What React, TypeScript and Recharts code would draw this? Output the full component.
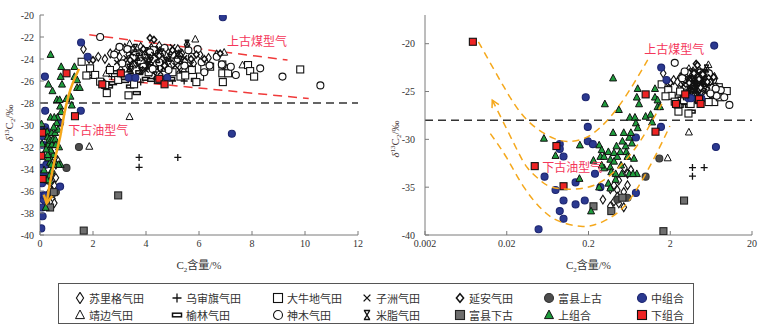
import React from 'react'
import { ScatterChart, Scatter, XAxis, YAxis, ReferenceLine, ReferenceDot } from 'recharts'

// C2 content (%) , delta13C2 (permil)
const suligeData = [
  [1.64, -23.1], [1.85, -24.0], [2.2, -23.8], [2.45, -24.0], [2.65, -23.5], [2.9, -23.3], [3.0, -23.8],
  [3.2, -23.0], [3.35, -23.6], [3.5, -23.2], [3.6, -24.3], [3.75, -23.5], [3.9, -23.8], [4.0, -24.6],
  [4.4, -23.4], [4.6, -24.0], [4.8, -23.3], [5.0, -24.5], [5.1, -23.8], [5.3, -24.8], [5.48, -24.2],
  [5.6, -25.0], [5.8, -24.4], [6.04, -23.6], [6.36, -23.9], [6.67, -23.6], [6.9, -24.6], [7.05, -24.9],
  [5.55, -22.7], [4.9, -24.9], [3.3, -24.5], [3.05, -25.0], [2.6, -24.8], [4.2, -23.0], [3.8, -22.9],
  [4.5, -22.8], [5.2, -23.1], [3.65, -24.0], [4.1, -24.1], [4.35, -24.5], [4.75, -23.7], [5.35, -23.5],
  [3.45, -24.8],
  [0.37, -35.2], [0.41, -34.8], [0.47, -34.3], [0.45, -35.3], [0.54, -35.5], [0.6, -34.8], [0.45, -36.0],
  [0.41, -36.5], [0.47, -36.7], [0.54, -37.1], [0.37, -37.0], [0.66, -33.2], [0.6, -33.6], [0.55, -33.0],
  [0.3, -36.3],
]
const jingbianData = [
  [3.38, -22.6], [5.86, -22.2], [7.64, -24.55], [1.86, -31.95], [3.38, -29.25], [4.9, -24.7], [2.5, -25.3], [6.95, -23.4],
]
const wushenqiData = [
  [5.44, -26.0], [3.74, -32.95], [3.74, -33.85], [5.2, -32.95], [4.2, -25.3], [3.8, -26.1], [2.7, -25.6], [5.0, -26.0],
]
const yulinData = [
  [1.95, -25.6], [2.3, -26.0], [2.6, -26.5], [3.4, -26.5], [3.65, -27.1], [4.0, -25.8], [4.55, -25.7],
  [4.95, -25.8], [5.4, -25.3], [2.9, -25.2], [4.3, -24.8], [3.2, -26.0], [3.75, -25.2], [5.85, -25.9],
  [3.5, -25.6], [4.2, -25.9], [2.75, -26.2],
]
const daniudiData = [
  [1.57, -24.25], [1.89, -24.85], [2.08, -25.45], [2.27, -26.06], [2.46, -26.36], [2.52, -27.1], [3.34, -27.3],
  [2.64, -25.0], [2.95, -25.9], [3.2, -25.5], [3.55, -26.3], [3.9, -24.6], [4.1, -25.2], [4.6, -24.8],
  [5.0, -25.2], [5.3, -25.6], [5.73, -25.0], [6.04, -25.6], [5.48, -25.5], [6.42, -24.7], [6.88, -24.5],
  [6.88, -25.3], [6.9, -26.1], [7.1, -25.3], [7.85, -24.55], [7.93, -25.1], [8.08, -25.6], [9.82, -24.95],
  [3.6, -23.5], [4.3, -23.2], [5.9, -26.1], [1.75, -25.5], [3.75, -24.0], [4.45, -25.9], [6.2, -24.85],
]
const shenmuData = [
  [2.27, -22.0], [5.6, -23.2], [5.73, -23.8], [6.86, -24.5], [6.67, -23.8], [7.39, -25.45], [8.31, -24.85],
  [9.15, -25.6], [10.58, -26.4], [3.3, -23.1], [3.5, -23.9], [4.0, -23.6], [4.5, -24.3], [4.7, -23.0],
  [5.2, -24.0], [6.1, -24.3], [6.4, -24.6], [3.1, -24.4], [2.8, -23.6], [5.95, -23.1], [4.85, -25.0],
  [7.2, -24.7], [6.2, -25.2], [3.8, -24.2], [5.0, -23.6], [3.0, -22.9], [4.25, -24.9], [3.9, -24.7],
  [4.6, -23.5], [5.45, -24.6], [4.15, -23.4],
]
const zizhouData = [
  [3.45, -23.5], [3.9, -24.0], [4.3, -23.6], [4.7, -24.4], [5.1, -24.6], [5.45, -23.9], [3.7, -24.6],
  [4.1, -24.4], [5.0, -22.9], [5.7, -24.5], [4.55, -25.2], [3.25, -23.9], [2.9, -24.3], [4.0, -25.0], [5.3, -23.4],
  [3.55, -24.2], [4.45, -23.1], [4.85, -24.0], [5.25, -25.0], [3.95, -24.9], [4.65, -24.8],
]
const mizhiData = [
  [3.6, -23.0], [4.0, -23.3], [4.45, -24.0], [4.9, -23.9], [5.3, -24.1], [3.8, -25.1], [4.2, -24.2],
  [5.55, -22.6], [3.35, -24.8], [4.6, -23.4], [3.1, -25.3], [4.35, -25.5], [3.7, -23.8], [4.1, -23.9],
  [4.75, -24.2], [5.15, -23.6], [3.45, -25.0], [4.05, -24.6],
]
const yananData = [
  [4.15, -22.1], [4.3, -22.25], [5.9, -23.6], [6.2, -24.0], [3.9, -23.1], [4.5, -23.7], [5.0, -23.2],
  [2.0, -24.1], [6.8, -23.5], [5.7, -24.0], [3.4, -24.1], [4.7, -24.6],
]
const fuxianUpperData = [[0.6, -36.1], [1.0, -33.9], [1.47, -32.0], [0.45, -36.3]]
const fuxianLowerData = [[0.23, -37.0], [0.38, -37.5], [0.52, -36.1], [1.65, -39.6], [2.95, -36.4]]
const middleData = [
  [0.049, -39.4], [0.058, -33.9], [0.079, -35.3], [0.089, -30.5], [0.089, -31.0], [0.099, -31.8],
  [0.089, -37.5], [0.099, -38.3], [0.099, -36.4], [0.139, -34.5], [0.139, -36.8], [0.18, -36.4],
  [0.185, -25.6], [0.196, -28.7], [0.196, -30.2], [0.226, -30.5], [0.24, -33.6], [0.28, -35.0],
  [0.76, -35.6], [0.76, -29.8], [1.54, -28.7], [1.55, -22.5], [1.8, -23.8], [6.9, -20.2], [7.24, -30.8],
  [3.35, -25.7], [3.6, -25.7], [4.8, -25.7],
]
const upperData = [
  [0.057, -29.9], [0.079, -31.7], [0.157, -30.6], [0.155, -34.1], [0.215, -37.5], [0.317, -26.3],
  [0.4, -23.6], [0.47, -26.9], [0.4, -29.3], [0.27, -30.6], [0.29, -31.1], [0.28, -31.8], [0.31, -31.8],
  [0.35, -31.3], [0.37, -32.1], [0.41, -31.4], [0.44, -30.7], [0.45, -31.8], [0.49, -31.3], [0.57, -30.7],
  [0.58, -31.3], [0.63, -29.8], [0.66, -29.3], [0.54, -29.3], [0.64, -27.7], [0.74, -27.7], [0.76, -28.3],
  [0.8, -28.8], [0.78, -25.6], [0.8, -24.7], [0.83, -26.3], [1.0, -27.6], [1.15, -27.4], [1.2, -28.2],
  [1.3, -24.7], [1.3, -25.6], [1.4, -25.9], [1.4, -26.6], [1.5, -26.6], [0.72, -32.0], [0.78, -33.6],
  [0.63, -33.6], [0.7, -33.6], [0.5, -32.7], [0.51, -33.6], [0.41, -32.3], [0.37, -32.9], [0.38, -33.4],
  [0.43, -33.6], [0.43, -34.2], [0.35, -34.6], [0.37, -35.1], [0.27, -35.0], [0.31, -33.0], [0.29, -32.7],
  [0.23, -32.2], [0.6, -31.8], [0.68, -30.4], [0.52, -30.2],
]
const lowerData = [
  [0.0077, -19.8], [0.081, -30.7], [0.044, -32.8], [0.099, -34.9], [1.0, -25.3], [1.32, -29.2],
  [2.35, -26.3], [3.05, -25.3], [4.5, -25.8], [4.7, -26.3],
]

// guide lines / annotations
const coalLineUpper = [[1.86, -21.8], [9.34, -24.1]]
const coalLineLower = [[2.6, -25.85], [10.14, -27.6]]
const leftArrowPath = [
  [1.47, -24.9], [1.25, -26.1], [1.07, -27.4], [0.9, -29.2], [0.76, -31.1], [0.62, -32.5],
  [0.5, -33.8], [0.39, -35.1], [0.31, -36.2], [0.25, -37.1],
]
const rightCurveA = [
  [0.009, -19.8], [0.0184, -24.5], [0.0356, -28.0], [0.0755, -29.9], [0.121, -30.2], [0.194, -29.75],
  [0.341, -28.0], [0.6, -25.2], [1.06, -21.7],
]
const rightCurveB = [
  [0.0133, -25.9], [0.0202, -29.0], [0.0275, -31.3], [0.036, -33.0], [0.05, -34.2], [0.071, -35.0],
  [0.13, -35.2], [0.234, -34.8], [0.41, -33.4], [0.75, -30.9], [1.16, -28.3], [1.58, -26.3],
]
const rightCurveC = [
  [0.0126, -29.4], [0.0202, -32.0], [0.0324, -35.0], [0.055, -37.4], [0.09, -38.6], [0.17, -39.1],
  [0.3, -38.6], [0.55, -37.0], [0.96, -33.9], [1.47, -30.9], [1.98, -28.6],
]

const leftXTicks = [0, 2, 4, 6, 8, 10, 12]
const leftYTicks = [-40, -38, -36, -34, -32, -30, -28, -26, -24, -22, -20]
const rightXTicks = [0.002, 0.02, 0.2, 2, 20]
const rightYTicks = [-40, -35, -30, -25, -20]

const SERIF = '"Liberation Serif", "Times New Roman", serif'
const CJK = '"Noto Sans CJK SC", sans-serif'
const AXIS = '#7a7a7a'
const NOTE = '#f4365a'
const ORANGE = '#f5a81c'

const pts = (a: number[][]) => a.map(([x, y]) => ({ x, y }))

type Kind = 'diamond' | 'smallDiamond' | 'triangle' | 'plus' | 'bar' | 'square' | 'circle' | 'cross' | 'mizhi'

const drawMarker = (kind: Kind, cx: number, cy: number, s: number, fill: string, stroke: string) => {
  const h = s / 2
  switch (kind) {
    case 'diamond':
      return <path d={`M${cx},${cy - h * 1.25}L${cx + h * 0.8},${cy}L${cx},${cy + h * 1.25}L${cx - h * 0.8},${cy}Z`} fill={fill} stroke={stroke} strokeWidth={1.1} />
    case 'smallDiamond':
      return <path d={`M${cx},${cy - h * 0.95}L${cx + h * 0.8},${cy}L${cx},${cy + h * 0.95}L${cx - h * 0.8},${cy}Z`} fill={fill} stroke={stroke} strokeWidth={1.5} />
    case 'triangle':
      return <path d={`M${cx},${cy - h * 1.1}L${cx + h},${cy + h * 0.8}L${cx - h},${cy + h * 0.8}Z`} fill={fill} stroke={stroke} strokeWidth={1} />
    case 'plus':
      return <path d={`M${cx - h},${cy}H${cx + h}M${cx},${cy - h}V${cy + h}`} stroke={stroke} strokeWidth={1.3} fill="none" />
    case 'cross':
      return <path d={`M${cx - h * 0.75},${cy - h * 0.75}L${cx + h * 0.75},${cy + h * 0.75}M${cx + h * 0.75},${cy - h * 0.75}L${cx - h * 0.75},${cy + h * 0.75}`} stroke={stroke} strokeWidth={1.4} fill="none" />
    case 'mizhi':
      return <path d={`M${cx - h * 0.7},${cy - h}H${cx + h * 0.7}M${cx - h * 0.7},${cy + h}H${cx + h * 0.7}M${cx - h * 0.6},${cy - h}L${cx + h * 0.6},${cy + h}M${cx + h * 0.6},${cy - h}L${cx - h * 0.6},${cy + h}`} stroke={stroke} strokeWidth={1.4} fill="none" />
    case 'bar':
      return <rect x={cx - h} y={cy - h * 0.4} width={s} height={h * 0.8} fill={fill} stroke={stroke} strokeWidth={1.5} />
    case 'square':
      return <rect x={cx - h} y={cy - h} width={s} height={s} fill={fill} stroke={stroke} strokeWidth={1.1} />
    default:
      return <circle cx={cx} cy={cy} r={h} fill={fill} stroke={stroke} strokeWidth={1.1} />
  }
}

const shapeOf = (kind: Kind, s: number, fill: string, stroke: string) => (p: any) =>
  p.cx == null ? <g /> : drawMarker(kind, p.cx, p.cy, s, fill, stroke)

const SERIES: { name: string; data: number[][]; kind: Kind; fill: string; stroke: string }[] = [
  { name: '苏里格气田', data: suligeData, kind: 'diamond', fill: '#fff', stroke: '#111' },
  { name: '靖边气田', data: jingbianData, kind: 'triangle', fill: '#fff', stroke: '#111' },
  { name: '乌审旗气田', data: wushenqiData, kind: 'plus', fill: 'none', stroke: '#111' },
  { name: '榆林气田', data: yulinData, kind: 'bar', fill: '#fff', stroke: '#111' },
  { name: '大牛地气田', data: daniudiData, kind: 'square', fill: '#fff', stroke: '#111' },
  { name: '神木气田', data: shenmuData, kind: 'circle', fill: '#fff', stroke: '#111' },
  { name: '子洲气田', data: zizhouData, kind: 'cross', fill: 'none', stroke: '#111' },
  { name: '米脂气田', data: mizhiData, kind: 'mizhi', fill: 'none', stroke: '#111' },
  { name: '延安气田', data: yananData, kind: 'smallDiamond', fill: '#fff', stroke: '#111' },
  { name: '富县上古', data: fuxianUpperData, kind: 'circle', fill: '#4d4d4d', stroke: '#333' },
  { name: '富县下古', data: fuxianLowerData, kind: 'square', fill: '#6e6e6e', stroke: '#222' },
  { name: '中组合', data: middleData, kind: 'circle', fill: '#2b3990', stroke: '#1c2570' },
  { name: '上组合', data: upperData, kind: 'triangle', fill: '#1f9d3d', stroke: '#111' },
  { name: '下组合', data: lowerData, kind: 'square', fill: '#ee2424', stroke: '#111' },
]

const LEGEND_ROWS = [
  ['苏里格气田', '乌审旗气田', '大牛地气田', '子洲气田', '延安气田', '富县上古', '中组合'],
  ['靖边气田', '榆林气田', '神木气田', '米脂气田', '富县下古', '上组合', '下组合'],
]
const LEGEND_COL_X = [15, 112, 213, 302, 395, 484, 577]
const LEGEND_ROW_Y = [14, 31]

const arrowHead = (angle: number, color: string, len: number, w: number) => (p: any) => {
  if (p.cx == null) return <g />
  const a = (angle * Math.PI) / 180
  const back = (da: number) => [p.cx - len * Math.cos(a + da), p.cy - len * Math.sin(a + da)]
  const [x1, y1] = back(0.5)
  const [x2, y2] = back(-0.5)
  return <path d={`M${x1},${y1}L${p.cx},${p.cy}L${x2},${y2}`} fill="none" stroke={color} strokeWidth={w} />
}

const textShape = (text: string) => (p: any) => (
  <text x={p.cx} y={p.cy} fill={NOTE} fontSize={12} fontFamily={CJK}>{text}</text>
)

const XTick = (props: any) => {
  const { x, y, payload, gap } = props
  const ay = y - gap
  return (
    <g>
      <line x1={x} y1={ay} x2={x} y2={ay - 4} stroke={AXIS} />
      <text x={x} y={ay + 12} textAnchor="middle" fontSize={10} fontFamily={SERIF} fill="#333">{payload.value}</text>
    </g>
  )
}

const YTick = (props: any) => {
  const { x, y, payload, gap } = props
  const ax = x + gap
  return (
    <g>
      <line x1={ax} y1={y} x2={ax + 4} y2={y} stroke={AXIS} />
      <text x={x} y={y + 3.5} textAnchor="end" fontSize={10} fontFamily={SERIF} fill="#333">{payload.value}</text>
    </g>
  )
}

const XTitle = ({ viewBox }: any) => {
  if (!viewBox) return null
  const x = viewBox.x + viewBox.width / 2
  const y = viewBox.y + 34
  return (
    <text x={x} y={y} textAnchor="middle" fontSize={11} fill="#333" fontFamily={SERIF}>
      C<tspan fontSize={7} dy={3}>2</tspan>
      <tspan dy={-3} fontFamily={CJK}>含量</tspan>/%
    </text>
  )
}

const YTitle = ({ viewBox, xOff, yOff }: any) => {
  if (!viewBox) return null
  const x = viewBox.x + xOff
  const y = viewBox.y + viewBox.height / 2 + yOff
  return (
    <text transform={`rotate(-90 ${x} ${y})`} x={x} y={y} textAnchor="middle" fontFamily={SERIF} fontSize={11} fill="#4a3a3a">
      <tspan fontStyle="italic">δ</tspan>
      <tspan fontSize={7} dy={-4}>13</tspan>
      <tspan dy={4}>C</tspan>
      <tspan fontSize={7} dy={2}>2</tspan>
      <tspan dy={-2}>/‰</tspan>
    </text>
  )
}

const Panel = ({ log }: { log: boolean }) => {
  const xDomain = log ? [0.002, 20] : [0, 12]
  const yDomain = log ? [-40, -17] : [-40, -20]
  const inside = (d: number[][]) =>
    pts(d.filter(([x, y]) => x >= xDomain[0] && x <= xDomain[1] && y >= yDomain[0] && y <= yDomain[1]))
  const yGap = log ? 10 : 6

  return (
    <ScatterChart
      width={log ? 389 : 370}
      height={275}
      margin={{ top: 15, right: log ? 17 : 12, left: 0, bottom: 0 }}
    >
      <XAxis
        type="number"
        dataKey="x"
        scale={log ? 'log' : 'linear'}
        domain={xDomain}
        ticks={log ? rightXTicks : leftXTicks}
        allowDataOverflow
        interval={0}
        tickSize={0}
        tickMargin={4}
        tickLine={false}
        axisLine={{ stroke: AXIS }}
        tick={<XTick gap={4} />}
        height={40}
        label={<XTitle />}
      />
      <YAxis
        type="number"
        dataKey="y"
        domain={yDomain}
        ticks={log ? rightYTicks : leftYTicks}
        allowDataOverflow
        interval={0}
        tickSize={0}
        tickMargin={yGap}
        tickLine={false}
        axisLine={{ stroke: AXIS }}
        tick={<YTick gap={yGap} />}
        width={log ? 45 : 40}
        label={<YTitle xOff={log ? 19 : 13} yOff={log ? 14 : -2} />}
      />
      <ReferenceLine y={-28} stroke="#333" strokeDasharray="8 5" strokeWidth={1.5} />

      {!log && (
        <ReferenceLine
          segment={pts(coalLineUpper)}
          stroke="#f03a3a"
          strokeDasharray="9 6"
          strokeWidth={1.5}
          ifOverflow="visible"
        />
      )}
      {!log && (
        <ReferenceLine
          segment={pts(coalLineLower)}
          stroke="#f03a3a"
          strokeDasharray="9 6"
          strokeWidth={1.5}
          ifOverflow="visible"
        />
      )}

      {SERIES.map((s) => (
        <Scatter
          key={s.name}
          name={s.name}
          data={inside(s.data)}
          shape={shapeOf(s.kind, 7, s.fill, s.stroke)}
          isAnimationActive={false}
        />
      ))}

      {!log && (
        <Scatter
          data={pts(leftArrowPath)}
          line={{ stroke: ORANGE, strokeWidth: 2.5 }}
          lineJointType="natural"
          shape={() => <g />}
          isAnimationActive={false}
        />
      )}
      {!log && (
        <Scatter
          data={pts(leftArrowPath.slice(-1))}
          shape={arrowHead(100, ORANGE, 9, 2.5)}
          isAnimationActive={false}
        />
      )}

      {log && [rightCurveA, rightCurveB, rightCurveC].map((c, i) => (
        <Scatter
          key={`curve-${i}`}
          data={pts(c)}
          line={{ stroke: ORANGE, strokeWidth: 1.5, strokeDasharray: '7 5' }}
          lineJointType="natural"
          shape={() => <g />}
          isAnimationActive={false}
        />
      ))}
      {log && (
        <Scatter
          data={pts(rightCurveB.slice(0, 1))}
          shape={arrowHead(-117, ORANGE, 8, 1.5)}
          isAnimationActive={false}
        />
      )}

      {log ? (
        <ReferenceDot x={0.96} y={-21.05} r={0} shape={textShape('上古煤型气')} ifOverflow="visible" />
      ) : (
        <ReferenceDot x={7.06} y={-22.85} r={0} shape={textShape('上古煤型气')} ifOverflow="visible" />
      )}
      {log ? (
        <ReferenceDot x={0.0543} y={-33.45} r={0} shape={textShape('下古油型气')} ifOverflow="visible" />
      ) : (
        <ReferenceDot x={1.07} y={-30.95} r={0} shape={textShape('下古油型气')} ifOverflow="visible" />
      )}
    </ScatterChart>
  )
}

const Legend = () => (
  <div
    style={{
      position: 'absolute',
      left: 58,
      top: 283,
      width: 636,
      height: 41,
      border: '1px solid #555',
      boxSizing: 'border-box',
    }}
  >
    {LEGEND_ROWS.map((row, r) =>
      row.map((name, c) => {
        const s = SERIES.find((it) => it.name === name)!
        return (
          <div
            key={name}
            style={{
              position: 'absolute',
              left: LEGEND_COL_X[c],
              top: LEGEND_ROW_Y[r] - 8,
              height: 16,
              display: 'flex',
              alignItems: 'center',
              whiteSpace: 'nowrap',
            }}
          >
            <svg width={12} height={12} style={{ marginRight: 3 }}>
              {drawMarker(s.kind, 6, 6, 9, s.fill, s.stroke)}
            </svg>
            <span style={{ fontFamily: CJK, fontSize: 11, color: '#333' }}>{name}</span>
          </div>
        )
      })
    )}
  </div>
)

export default function App() {
  return (
    <div style={{ position: 'absolute', left: 0, top: 0, width: 769, height: 329, background: '#fff', overflow: 'hidden' }}>
      <div style={{ position: 'absolute', left: 0, top: 0 }}>
        <Panel log={false} />
      </div>
      <div style={{ position: 'absolute', left: 380, top: 0 }}>
        <Panel log />
      </div>
      <Legend />
    </div>
  )
}
